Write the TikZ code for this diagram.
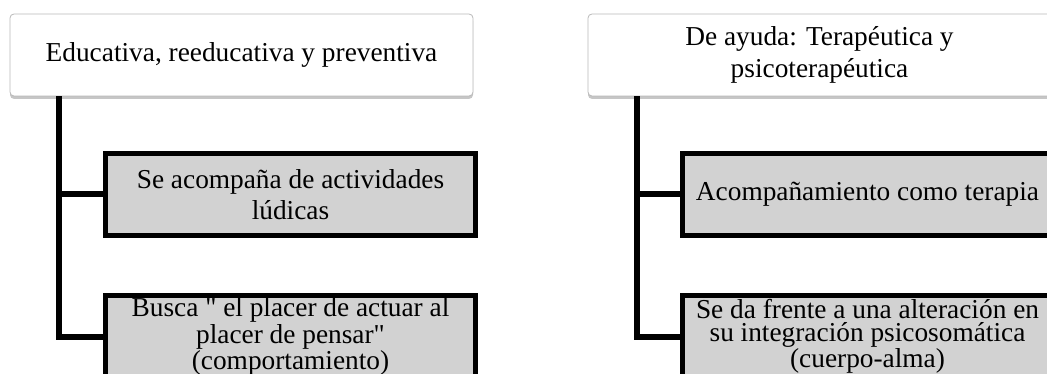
\documentclass[tikz,border=0pt]{standalone}
\usepackage{fontspec}
\setmainfont{Liberation Serif}
\usetikzlibrary{shadows}

\begin{document}
\begin{tikzpicture}[line cap=rect,line join=miter,x=0.75pt,y=-0.75pt,
    topbox/.style={draw=gray!55,line width=0.6pt,fill=white,rounded corners=3pt,
      drop shadow={shadow xshift=0pt,shadow yshift=-2.2pt,opacity=0.45,fill=gray},
      minimum width=0.75*463pt,minimum height=0.75*82pt,inner sep=0pt,align=center,
      font=\fontsize{20.5}{24}\selectfont},
    subbox/.style={draw=black,line width=3.75pt,fill=gray!35,
      minimum width=0.75*370pt,minimum height=0.75*82pt,inner sep=0pt,align=center},
    conn/.style={draw=black,line width=4.5pt,line cap=butt}]
    \useasboundingbox (0,0) rectangle (1047,374);
    \clip (0,0) rectangle (1047,374);
    % top boxes
    \node[topbox] (educ) at (241.5,55) {Educativa, reeducativa y preventiva};
    \node[topbox] (ayuda) at (819.5,55) {De ayuda: Terap\'eutica y\\psicoterap\'eutica};
    % sub boxes
    \node[subbox,font=\fontsize{20.5}{23}\selectfont] (educA) at (290.5,194.5)
      {Se acompa\~na de actividades\\l\'udicas};
    \node[subbox,font=\fontsize{20.5}{17.5}\selectfont] (educB) at (290.5,336.5)
      {Busca \textquotedbl{} el placer de actuar al\\placer de pensar\textquotedbl\\(comportamiento)};
    \node[subbox,font=\fontsize{20.5}{23}\selectfont] (ayudaA) at (867.5,194.5)
      {Acompa\~namiento como terapia};
    \node[subbox,font=\fontsize{20.5}{17.5}\selectfont] (ayudaB) at (867.5,336.5)
      {Se da frente a una alteraci\'on en\\su integraci\'on psicosom\'atica\\(cuerpo-alma)};
    % connectors
    \foreach \p/\a/\b in {educ/educA/educB,ayuda/ayudaA/ayudaB} {
        \coordinate (\p T) at ([xshift=0.75*49pt]\p.south west);
        \draw[conn] (\p T) |- (\b.west);
        \draw[conn] (\p T |- \a.west) -- (\a.west);
    }
\end{tikzpicture}
\end{document}
